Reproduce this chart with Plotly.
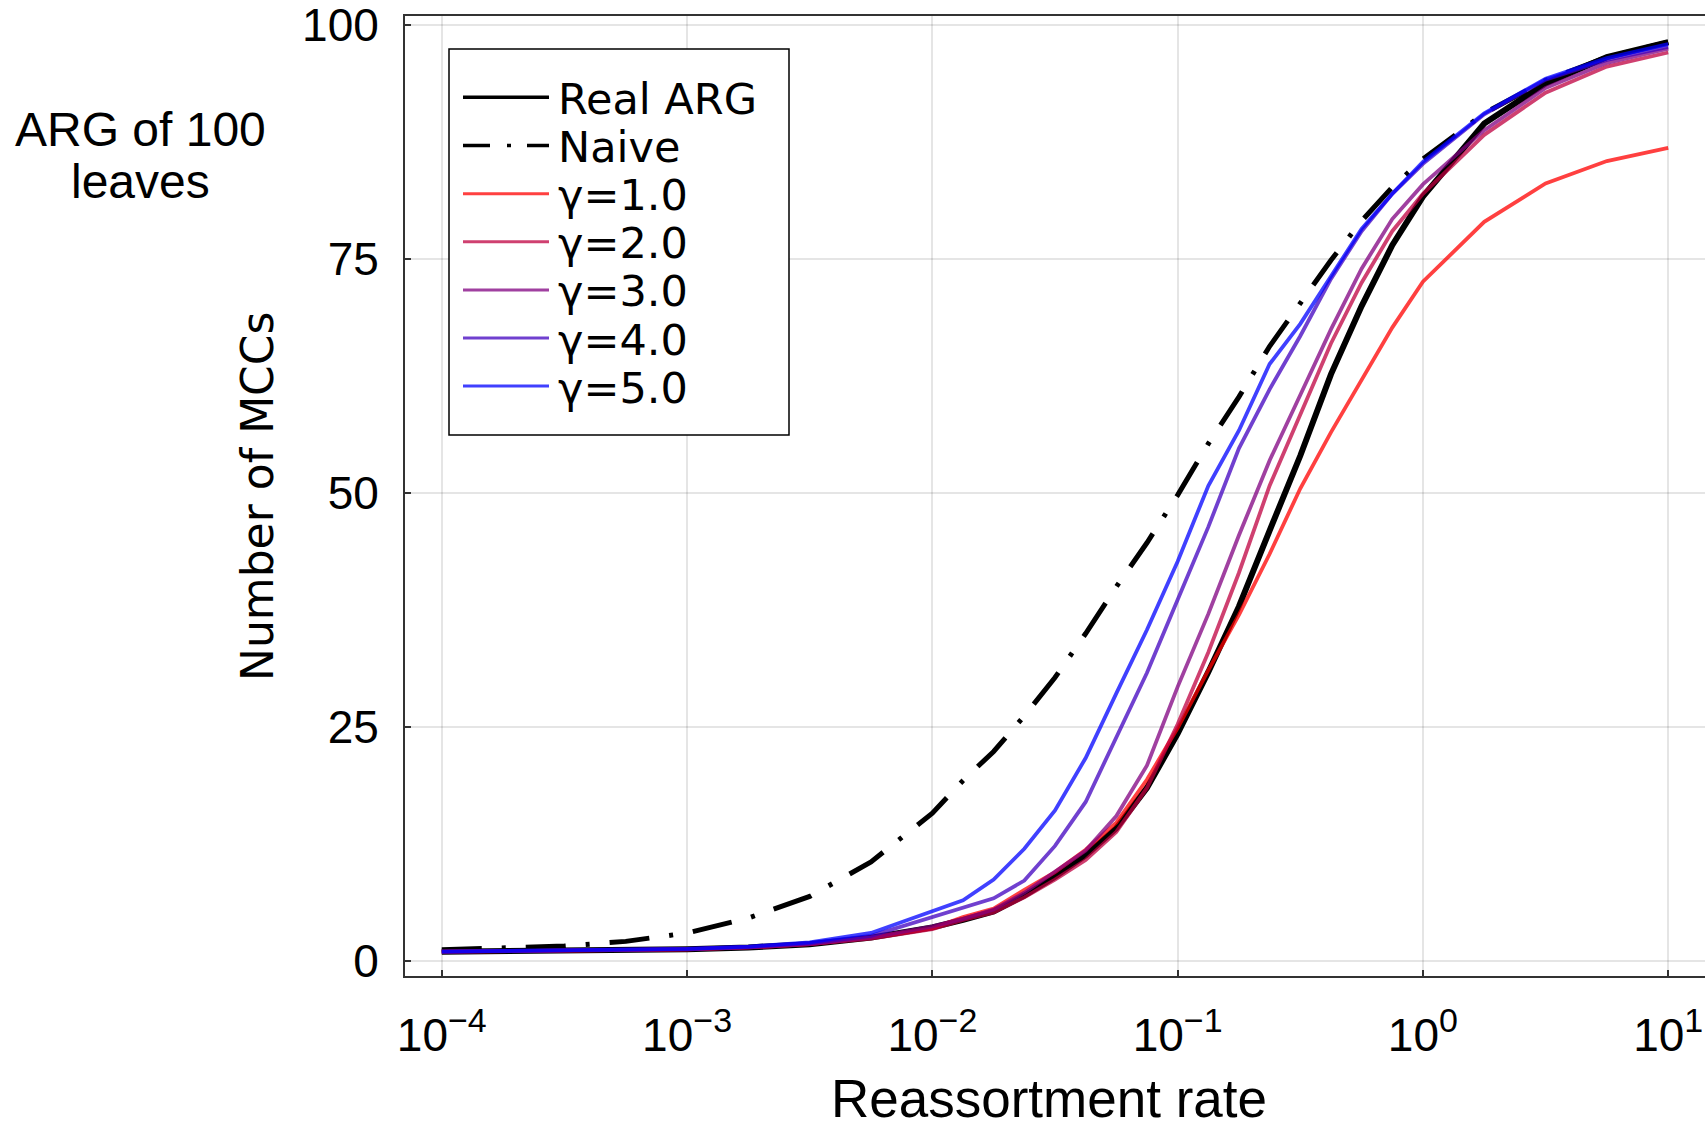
import plotly.graph_objects as go

# Reassortment rates at which the number of MCCs was evaluated
rates = [1.0e-4, 1.778e-4, 3.162e-4, 5.623e-4, 1.0e-3, 1.778e-3, 3.162e-3, 5.623e-3,
         1.0e-2, 1.334e-2, 1.778e-2, 2.371e-2, 3.162e-2, 4.217e-2, 5.623e-2, 7.499e-2,
         0.1, 0.1334, 0.1778, 0.2371, 0.3162, 0.4217, 0.5623, 0.7499,
         1.0, 1.778, 3.162, 5.623, 10.0]

# Mean number of MCCs, ARG of 100 leaves
real_arg = [1.0, 1.05, 1.1, 1.15, 1.25, 1.45, 1.8, 2.5, 3.6, 4.4, 5.3, 7.0, 9.0, 11.3,
            14.2, 18.5, 24.3, 30.9, 37.9, 46.0, 54.0, 62.7, 70.0, 76.5, 81.7, 89.5,
            93.8, 96.6, 98.2]
naive = [1.2, 1.35, 1.6, 2.1, 3.0, 4.6, 6.9, 10.6, 15.8, 19.3, 22.4, 26.2, 30.3, 35.0,
         40.0, 44.7, 49.8, 55.3, 60.3, 65.7, 70.2, 74.9, 79.1, 82.7, 85.7, 90.6,
         94.1, 96.6, 98.2]
gamma_1 = [1.0, 1.05, 1.1, 1.15, 1.25, 1.45, 1.8, 2.5, 3.5, 4.7, 5.6, 7.6, 9.5, 11.9,
           14.8, 19.4, 24.9, 31.1, 37.0, 43.5, 50.5, 56.5, 62.1, 67.7, 72.6, 79.0,
           83.1, 85.5, 86.9]
gamma_2 = [1.0, 1.05, 1.1, 1.15, 1.25, 1.45, 1.8, 2.4, 3.4, 4.4, 5.2, 6.8, 8.7, 10.8,
           13.8, 18.5, 25.3, 33.0, 41.5, 50.8, 58.5, 66.0, 72.5, 78.0, 82.0, 88.3,
           92.8, 95.6, 97.1]
gamma_3 = [1.0, 1.05, 1.1, 1.15, 1.25, 1.45, 1.8, 2.5, 3.7, 4.5, 5.5, 7.3, 9.5, 11.8,
           15.5, 20.9, 29.3, 37.1, 45.5, 53.5, 60.5, 67.5, 74.0, 79.3, 83.0, 88.8,
           93.3, 96.0, 97.5]
gamma_4 = [1.0, 1.05, 1.1, 1.2, 1.3, 1.5, 1.9, 2.7, 4.7, 5.6, 6.7, 8.6, 12.3, 17.0,
           24.0, 30.8, 38.6, 46.4, 54.8, 61.1, 66.8, 72.9, 78.0, 82.0, 85.2, 90.5,
           94.2, 96.3, 97.7]
gamma_5 = [1.0, 1.05, 1.1, 1.2, 1.3, 1.55, 2.0, 3.0, 5.3, 6.5, 8.7, 12.0, 16.1, 21.7,
           28.6, 35.4, 42.7, 50.8, 56.7, 63.8, 68.1, 73.25, 78.25, 82.0, 85.4, 90.6,
           94.3, 96.5, 98.0]

series_names = ["Real ARG", "Naive", "γ=1.0", "γ=2.0", "γ=3.0", "γ=4.0", "γ=5.0"]
series_values = [real_arg, naive, gamma_1, gamma_2, gamma_3, gamma_4, gamma_5]

# Axis ticks
x_tick_vals = [1e-4, 1e-3, 1e-2, 1e-1, 1e0, 1e1]
x_tick_exponents = ["−4", "−3", "−2", "−1", "0", "1"]
y_tick_vals = [0, 25, 50, 75, 100]
y_tick_text = ["0", "25", "50", "75", "100"]

SUP_SIZE = 34
x_tick_text = ["10<sup><span style='font-size:%dpx'>%s</span></sup>" % (SUP_SIZE, e)
               for e in x_tick_exponents]

# Line styles: colour, width on plot, width in legend, dash on plot, dash in legend
NAIVE_DASH = "40px,20px,4px,20px"
NAIVE_KEY_DASH = "27px,17px,4px,16px,22px"
styles = [
    ("#000000", 6.0, 3.5, "solid", "solid"),
    ("#000000", 5.0, 3.5, NAIVE_DASH, NAIVE_KEY_DASH),
    ("rgba(255,0,0,0.75)", 3.8, 3.0, "solid", "solid"),
    ("rgba(191,0,64,0.75)", 3.8, 3.0, "solid", "solid"),
    ("rgba(128,0,128,0.75)", 3.8, 3.0, "solid", "solid"),
    ("rgba(64,0,191,0.75)", 3.8, 3.0, "solid", "solid"),
    ("rgba(0,0,255,0.75)", 3.8, 3.0, "solid", "solid"),
]

W, H = 1705, 1124
ML, MR, MT, MB = 405, 0, 16, 148
PW, PH = W - ML - MR, H - MT - MB


def px_x(px):
    return (px - ML) / PW


def px_y(py):
    return (H - MB - py) / PH


fig = go.Figure()
for name, vals, (color, width, _, dash, _) in zip(series_names, series_values, styles):
    fig.add_trace(go.Scatter(
        x=rates, y=vals, mode="lines", name=name, showlegend=False,
        line=dict(color=color, width=width, dash=dash),
    ))

axis_color = "#333333"
grid_color = "rgba(0,0,0,0.1)"
tick_font = dict(family="Liberation Sans", size=46, color="#000000")

fig.update_xaxes(
    type="log", range=[-4.15, 1.15],
    tickvals=x_tick_vals, ticktext=x_tick_text, tickfont=tick_font,
    ticks="inside", ticklen=6, tickwidth=1.5, tickcolor=axis_color,
    showline=True, linecolor=axis_color, linewidth=2, mirror=True,
    showgrid=True, gridcolor=grid_color, gridwidth=1.5, zeroline=False,
    ticklabelstandoff=18, ticklabeloverflow="allow",
)
fig.update_yaxes(
    range=[-1.6, 101.0],
    tickvals=y_tick_vals, ticktext=y_tick_text, tickfont=tick_font,
    ticks="inside", ticklen=6, tickwidth=1.5, tickcolor=axis_color,
    showline=True, linecolor=axis_color, linewidth=2, mirror=False,
    showgrid=True, gridcolor=grid_color, gridwidth=1.5, zeroline=False,
    ticklabelstandoff=15, ticklabeloverflow="allow",
)

# Legend box drawn as shapes and text
shapes = [dict(type="rect", xref="paper", yref="paper", layer="above",
               x0=px_x(449), x1=px_x(789), y0=px_y(49), y1=px_y(435),
               line=dict(color="#000000", width=1.5), fillcolor="#ffffff")]
annotations = []
key_rows = [97.3, 145.5, 193.7, 241.8, 289.9, 338.0, 386.1]
for name, row, (color, _, kwidth, _, kdash) in zip(series_names, key_rows, styles):
    shapes.append(dict(type="line", xref="paper", yref="paper", layer="above",
                       x0=px_x(463), x1=px_x(549), y0=px_y(row), y1=px_y(row),
                       line=dict(color=color, width=kwidth, dash=kdash)))
    annotations.append(dict(text=name, xref="paper", yref="paper",
                            x=px_x(556), y=px_y(row + 1.5),
                            xanchor="left", yanchor="middle", showarrow=False,
                            font=dict(family="DejaVu Sans", size=43, color="#000000")))

# Axis titles and panel label
annotations += [
    dict(text="Reassortment rate", xref="paper", yref="paper",
         x=px_x(1049), y=px_y(1098), xanchor="center", yanchor="middle",
         showarrow=False, font=dict(family="Liberation Sans", size=53, color="#000000")),
    dict(text="Number of MCCs", xref="paper", yref="paper", textangle=-90,
         x=px_x(258), y=px_y(497), xanchor="center", yanchor="middle",
         showarrow=False, font=dict(family="DejaVu Sans", size=44, color="#000000")),
    dict(text="ARG of 100", xref="paper", yref="paper",
         x=px_x(140), y=px_y(129.5), xanchor="center", yanchor="middle",
         showarrow=False, font=dict(family="Liberation Sans", size=48, color="#000000")),
    dict(text="leaves", xref="paper", yref="paper",
         x=px_x(140), y=px_y(181), xanchor="center", yanchor="middle",
         showarrow=False, font=dict(family="Liberation Sans", size=48, color="#000000")),
]

fig.update_layout(
    width=W, height=H,
    margin=dict(l=ML, r=MR, t=MT, b=MB, pad=0),
    paper_bgcolor="#ffffff", plot_bgcolor="#ffffff",
    shapes=shapes, annotations=annotations,
    showlegend=False,
)

fig.write_html("out.html")
